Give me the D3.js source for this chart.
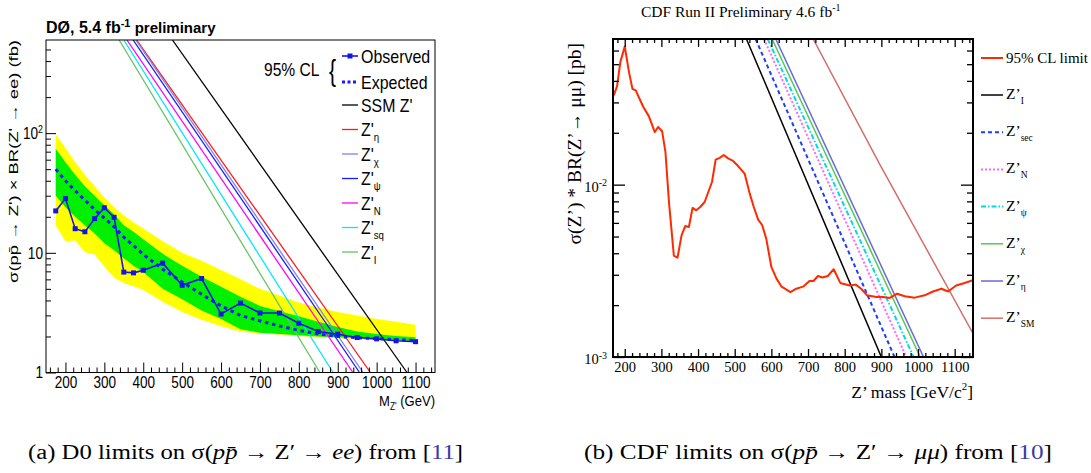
<!DOCTYPE html>
<html>
<head>
<meta charset="utf-8">
<script src="https://cdn.jsdelivr.net/npm/d3@7"></script>
<style>
  body { margin: 0; background: #fff; }
  svg { display: block; }
</style>
</head>
<body>
<svg id="chart" width="1091" height="473"></svg>
<script>
// ---------- (a) D0 data, cross section in fb ----------
var d0Mass     = [175, 200, 225, 250, 275, 300, 325, 350, 375, 400, 450, 500, 550, 600, 650, 700, 750, 800, 850, 900, 950, 1000, 1050, 1100];
var d0Observed = [22.4, 28.4, 15.9, 15.0, 19.3, 23.8, 19.8, 6.9, 6.8, 7.15, 8.2, 5.35, 6.1, 3.08, 3.8, 3.14, 3.14, 2.58, 2.2, 2.09, 1.96, 1.91, 1.84, 1.81];
var d0Expected = [50, 40, 33, 27.5, 23, 19.5, 16.5, 13.5, 11.5, 9.7, 7.3, 5.7, 4.5, 3.6, 3.0, 2.7, 2.45, 2.25, 2.1, 2.0, 1.95, 1.92, 1.88, 1.85];
var d0Plus2    = [98, 75, 57, 45, 36, 29, 24, 20.5, 18, 16, 12.5, 10, 8.6, 7.2, 6.0, 5.0, 4.4, 3.85, 3.5, 3.2, 3.0, 2.8, 2.65, 2.5];
var d0Plus1    = [74, 57, 45, 36, 30, 25, 21, 17, 15, 13, 9.8, 7.8, 6.3, 5.2, 4.3, 3.6, 3.25, 2.95, 2.65, 2.4, 2.2, 2.1, 2.02, 1.97];
var d0Minus1   = [30, 24, 20, 17, 14.5, 12, 10.5, 9, 7.8, 6.9, 5.0, 4.1, 3.3, 2.8, 2.3, 2.15, 2.1, 2.05, 2.0, 1.97, 1.94, 1.91, 1.87, 1.84];
var d0Minus2   = [16.9, 12.5, 12.7, 10.1, 9.7, 7.7, 6.2, 5.6, 5.25, 4.9, 3.9, 3.2, 2.76, 2.43, 2.2, 2.12, 2.08, 2.02, 1.97, 1.93, 1.9, 1.88, 1.85, 1.82];

// model curves: mass (GeV) where each crosses the two cross-section levels
var d0ModelName  = ["SSM Z'", "Z'", "Z'", "Z'", "Z'", "Z'", "Z'"];
var d0ModelSub   = ["", "η", "χ", "ψ", "N", "sq", "I"];
var d0ModelSigma = [600, 1];
var d0ModelMass  = [[475, 1078], [383, 984], [381, 965], [374, 956], [358, 939], [350, 888], [338, 854]];
var d0ModelColor = ["#000000", "#ff1a1a", "#8080f0", "#1a1aff", "#ff00ff", "#00e8ff", "#66c466"];

var d0XTicks = [200, 300, 400, 500, 600, 700, 800, 900, 1000, 1100];
var d0YTicks = [1, 10, 100];

// ---------- (b) CDF data, cross section in pb ----------
var cdfMass  = [170, 179, 188, 200, 212, 221, 230, 250, 266, 282, 291, 302, 311, 321, 334, 344, 355, 365, 375, 385,
                395, 406, 418, 438, 448, 459, 470, 482, 494, 506, 527, 541, 552, 564, 575, 586, 600, 614, 627, 652,
                668, 688, 704, 715, 727, 739, 754, 770, 788, 814, 830, 845, 861, 886, 905, 923, 943, 964, 991, 1018,
                1041, 1064, 1082, 1104, 1127, 1150];
var cdfLimit = [0.033, 0.0372, 0.0514, 0.0634, 0.0445, 0.036, 0.0352, 0.0284, 0.0249, 0.0202, 0.0216, 0.0204, 0.0155, 0.00776, 0.00387, 0.00377, 0.00508, 0.00575, 0.00568, 0.00733,
                0.0071, 0.00742, 0.00793, 0.01036, 0.01396, 0.0143, 0.01487, 0.0142, 0.0138, 0.01305, 0.0116, 0.00887, 0.00742, 0.00627, 0.00581, 0.00486, 0.00333, 0.00285, 0.00257, 0.00238,
                0.00249, 0.00257, 0.00276, 0.00276, 0.00295, 0.00289, 0.00295, 0.00323, 0.00269, 0.0026, 0.00263, 0.00249, 0.00228, 0.00223, 0.00223, 0.0022, 0.00233, 0.00225, 0.00221, 0.00228,
                0.0024, 0.00249, 0.0024, 0.0026, 0.00269, 0.00279];

var cdfModelSub   = ["I", "sec", "N", "ψ", "χ", "η", "SM"];
var cdfModelMass  = [[532, 900], [557, 936], [580, 968], [590, 988], [602, 1006], [612, 1015], [714, 895, 1150]];
var cdfModelSigma = [[0.07, 0.001], [0.07, 0.001], [0.07, 0.001], [0.07, 0.001], [0.07, 0.001], [0.07, 0.001], [0.07, 0.0132, 0.00137]];
var cdfModelColor = ["#000000", "#1f3cff", "#ff66ff", "#00dcdc", "#55c855", "#6a6ad8", "#d46e6a"];
var cdfModelDash  = [null, "4,3", "2,2", "5,2,1.5,2", null, null, null];

var cdfXTicks = [200, 300, 400, 500, 600, 700, 800, 900, 1000, 1100];
var cdfYTicks = [0.001, 0.01];


var svg = d3.select("#chart");
var SANS = "'Liberation Sans', Arial, sans-serif";
var SERIF = "'Liberation Serif', 'Times New Roman', serif";

// shrink text horizontally (the D0 plot lettering is narrow)
function squeeze(sel, k) {
    sel.each(function () {
        var w = this.getComputedTextLength();
        d3.select(this).attr("textLength", w * k).attr("lengthAdjust", "spacingAndGlyphs");
    });
}

// add a superscript exponent to log tick labels
function powerLabel(text, base, exp, size) {
    text.text(base);
    text.append("tspan").attr("dy", "-0.55em").style("font-size", size).text(exp);
}

// ===================== (a) D0 =====================
plot_d0();
function plot_d0() {
    var box = {left: 46, right: 435, top: 40, bottom: 372.5};
    var x = d3.scaleLinear().domain([150, 1150]).range([box.left, box.right]);
    var y = d3.scaleLog().domain([1, 600]).range([box.bottom, box.top]);

    var g = svg.append("g");
    g.append("clipPath").attr("id", "clipA")
        .append("rect").attr("x", box.left).attr("y", box.top)
        .attr("width", box.right - box.left).attr("height", box.bottom - box.top);
    var plot = g.append("g").attr("clip-path", "url(#clipA)");

    // 2 sigma and 1 sigma bands
    var band = function (lo, hi) {
        return d3.area()
            .x(function (d) { return x(d); })
            .y0(function (d, i) { return y(lo[i]); })
            .y1(function (d, i) { return y(hi[i]); });
    };
    plot.append("path").datum(d0Mass).attr("d", band(d0Minus2, d0Plus2)).attr("fill", "#ffff00");
    plot.append("path").datum(d0Mass).attr("d", band(d0Minus1, d0Plus1)).attr("fill", "#00f000");

    // model curves
    var modelLine = d3.line()
        .x(function (d) { return x(d[0]); })
        .y(function (d) { return y(d[1]); });
    d0ModelMass.forEach(function (m, k) {
        plot.append("path")
            .datum(m.map(function (v, i) { return [v, d0ModelSigma[i]]; }))
            .attr("d", modelLine)
            .attr("fill", "none")
            .attr("stroke", d0ModelColor[k])
            .attr("stroke-width", 1.3);
    });

    var lineOf = function (vals) {
        return d3.line()
            .x(function (d) { return x(d); })
            .y(function (d, i) { return y(vals[i]); });
    };
    // expected
    plot.append("path").datum(d0Mass).attr("d", lineOf(d0Expected))
        .attr("fill", "none").attr("stroke", "#1a1aff")
        .attr("stroke-width", 3).attr("stroke-dasharray", "3.5,3.8");
    // observed
    plot.append("path").datum(d0Mass).attr("d", lineOf(d0Observed))
        .attr("fill", "none").attr("stroke", "#1414e6").attr("stroke-width", 1.6);
    plot.selectAll("rect.obs").data(d0Mass).enter().append("rect")
        .attr("class", "obs")
        .attr("x", function (d) { return x(d) - 2.5; })
        .attr("y", function (d, i) { return y(d0Observed[i]) - 2.5; })
        .attr("width", 5).attr("height", 5)
        .attr("fill", "#1414e6");

    // frame
    g.append("rect").attr("x", box.left).attr("y", box.top)
        .attr("width", box.right - box.left).attr("height", box.bottom - box.top)
        .attr("fill", "none").attr("stroke", "#000").attr("stroke-width", 1);

    // x axis
    var minorX = d3.range(160, 1141, 20).filter(function (v) { return v % 100 !== 0; });
    g.append("g").attr("transform", "translate(0," + box.bottom + ")")
        .call(d3.axisBottom(x).tickValues(minorX).tickSize(-5).tickFormat(""))
        .call(function (a) { a.select(".domain").remove(); });
    var xa = g.append("g").attr("transform", "translate(0," + box.bottom + ")")
        .call(d3.axisBottom(x).tickValues(d0XTicks).tickSize(-10).tickPadding(4).tickFormat(d3.format("d")));
    xa.select(".domain").remove();
    xa.selectAll("text").style("font-family", SANS).style("font-size", "16.5px").attr("fill", "#000");
    squeeze(xa.selectAll("text"), 0.82);

    // y axis
    var minorY = [2, 3, 4, 5, 6, 7, 8, 9, 20, 30, 40, 50, 60, 70, 80, 90, 200, 300, 400, 500];
    g.append("g").attr("transform", "translate(" + box.left + ",0)")
        .call(d3.axisLeft(y).tickValues(minorY).tickSize(-5).tickFormat(""))
        .call(function (a) { a.select(".domain").remove(); });
    var ya = g.append("g").attr("transform", "translate(" + box.left + ",0)")
        .call(d3.axisLeft(y).tickValues(d0YTicks).tickSize(-10).tickPadding(3).tickFormat(String));
    ya.select(".domain").remove();
    ya.selectAll("text").style("font-family", SANS).style("font-size", "17px").attr("fill", "#000")
        .each(function (d) { if (d === 100) powerLabel(d3.select(this), "10", "2", "11px"); });
    squeeze(ya.selectAll("text"), 0.8);

    // axis titles
    var xt = g.append("text").attr("x", box.right).attr("y", 406)
        .attr("text-anchor", "end").style("font-family", SANS).style("font-size", "15.5px");
    xt.append("tspan").text("M");
    xt.append("tspan").attr("dy", 4).style("font-size", "10px").text("Z'");
    xt.append("tspan").attr("dy", -4).text(" (GeV)");
    squeeze(xt, 0.84);

    var yt = g.append("text")
        .attr("transform", "translate(18," + box.top + ") rotate(-90) scale(1,0.8)")
        .attr("text-anchor", "end").style("font-family", SANS).style("font-size", "15.5px");
    yt.append("tspan").text("σ(p");
    yt.append("tspan").text("p̄");
    yt.append("tspan").text(" → Z') × BR(Z' → ee) (fb)");
    yt.attr("textLength", 243).attr("lengthAdjust", "spacingAndGlyphs");

    // title
    var tt = g.append("text").attr("x", 46).attr("y", 33)
        .style("font-family", SANS).style("font-weight", "bold").style("font-size", "16px");
    tt.append("tspan").text("DØ, 5.4 fb");
    tt.append("tspan").attr("dy", -6).style("font-size", "11px").text("-1");
    tt.append("tspan").attr("dy", 6).style("font-size", "15px").text(" preliminary");

    // legend
    var lg = g.append("g");
    var t95 = lg.append("text").attr("x", 264).attr("y", 76)
        .style("font-family", SANS).style("font-size", "19px").text("95% CL");
    squeeze(t95, 0.82);
    lg.append("text").attr("x", 329).attr("y", 81)
        .style("font-family", SANS).style("font-size", "30px").text("{")
        .call(function (t) { squeeze(t, 0.7); });

    var lx0 = 342, lx1 = 358, tx = 361;
    lg.append("line").attr("x1", lx0).attr("x2", lx1).attr("y1", 56).attr("y2", 56)
        .attr("stroke", "#1414e6").attr("stroke-width", 1.6);
    lg.append("rect").attr("x", 347.5).attr("y", 53.5).attr("width", 5).attr("height", 5).attr("fill", "#1414e6");
    lg.append("line").attr("x1", lx0).attr("x2", lx1).attr("y1", 82).attr("y2", 82)
        .attr("stroke", "#1a1aff").attr("stroke-width", 3).attr("stroke-dasharray", "3,2.5");
    squeeze(lg.append("text").attr("x", tx).attr("y", 63).style("font-family", SANS).style("font-size", "19px").text("Observed"), 0.84);
    squeeze(lg.append("text").attr("x", tx).attr("y", 89).style("font-family", SANS).style("font-size", "19px").text("Expected"), 0.84);

    d0ModelName.forEach(function (name, k) {
        var yy = 105 + k * 24.5;
        lg.append("line").attr("x1", lx0).attr("x2", lx1).attr("y1", yy).attr("y2", yy)
            .attr("stroke", d0ModelColor[k]).attr("stroke-width", 1.3);
        var t = lg.append("text").attr("x", tx).attr("y", yy + 6.5)
            .style("font-family", SANS).style("font-size", "18px");
        t.append("tspan").text(name);
        if (d0ModelSub[k]) t.append("tspan").attr("dy", 5).style("font-size", "11px").text(d0ModelSub[k]);
        squeeze(t, 0.88);
    });
}

// ===================== (b) CDF =====================
plot_cdf();
function plot_cdf() {
    var box = {left: 613, right: 973, top: 39, bottom: 357};
    var x = d3.scaleLinear().domain([168, 1150]).range([box.left, box.right]);
    var y = d3.scaleLog().domain([0.001, 0.07]).range([box.bottom, box.top]);

    var g = svg.append("g");
    g.append("clipPath").attr("id", "clipB")
        .append("rect").attr("x", box.left).attr("y", box.top)
        .attr("width", box.right - box.left).attr("height", box.bottom - box.top);
    var plot = g.append("g").attr("clip-path", "url(#clipB)");

    var line = d3.line()
        .x(function (d) { return x(d[0]); })
        .y(function (d) { return y(d[1]); });

    cdfModelMass.forEach(function (m, k) {
        var p = plot.append("path")
            .datum(m.map(function (v, i) { return [v, cdfModelSigma[k][i]]; }))
            .attr("d", line)
            .attr("fill", "none")
            .attr("stroke", cdfModelColor[k])
            .attr("stroke-width", cdfModelDash[k] ? 2 : 1.5);
        if (cdfModelDash[k]) p.attr("stroke-dasharray", cdfModelDash[k]);
    });

    plot.append("path")
        .datum(cdfMass.map(function (m, i) { return [m, cdfLimit[i]]; }))
        .attr("d", line)
        .attr("fill", "none").attr("stroke", "#ff2a00").attr("stroke-width", 2)
        .attr("stroke-linejoin", "round");

    // ticks on all four sides
    var minorX = d3.range(180, 1141, 20).filter(function (v) { return v % 100 !== 0; });
    var minorY = [0.002, 0.003, 0.004, 0.005, 0.006, 0.007, 0.008, 0.009, 0.02, 0.03, 0.04, 0.05, 0.06];
    var tick = function (axis, tr) {
        g.append("g").attr("transform", tr).call(axis)
            .call(function (a) { a.select(".domain").remove(); a.selectAll("line").attr("stroke-width", 1.3); });
    };
    tick(d3.axisBottom(x).tickValues(minorX).tickSize(-4).tickFormat(""), "translate(0," + box.bottom + ")");
    tick(d3.axisTop(x).tickValues(minorX).tickSize(-4).tickFormat(""), "translate(0," + box.top + ")");
    tick(d3.axisTop(x).tickValues(cdfXTicks).tickSize(-8).tickFormat(""), "translate(0," + box.top + ")");
    tick(d3.axisLeft(y).tickValues(minorY).tickSize(-6).tickFormat(""), "translate(" + box.left + ",0)");
    tick(d3.axisRight(y).tickValues(minorY).tickSize(-6).tickFormat(""), "translate(" + box.right + ",0)");
    tick(d3.axisRight(y).tickValues(cdfYTicks).tickSize(-12).tickFormat(""), "translate(" + box.right + ",0)");

    var xa = g.append("g").attr("transform", "translate(0," + box.bottom + ")")
        .call(d3.axisBottom(x).tickValues(cdfXTicks).tickSize(-8).tickPadding(5).tickFormat(d3.format("d")));
    xa.select(".domain").remove();
    xa.selectAll("line").attr("stroke-width", 1.3);
    xa.selectAll("text").style("font-family", SERIF).style("font-size", "14.5px").attr("fill", "#000");

    var ya = g.append("g").attr("transform", "translate(" + box.left + ",0)")
        .call(d3.axisLeft(y).tickValues(cdfYTicks).tickSize(-12).tickPadding(6).tickFormat(""));
    ya.select(".domain").remove();
    ya.selectAll("line").attr("stroke-width", 1.3);
    ya.selectAll("text").style("font-family", SERIF).style("font-size", "14.5px").attr("fill", "#000")
        .attr("dy", "0.45em")
        .each(function (d) { powerLabel(d3.select(this), "10", d === 0.01 ? "-2" : "-3", "10px"); });

    // frame
    g.append("rect").attr("x", box.left).attr("y", box.top)
        .attr("width", box.right - box.left).attr("height", box.bottom - box.top)
        .attr("fill", "none").attr("stroke", "#000").attr("stroke-width", 2);

    // titles
    var tt = g.append("text").attr("x", 641).attr("y", 17)
        .style("font-family", SERIF).style("font-size", "15.5px");
    tt.append("tspan").text("CDF Run II Preliminary 4.6 fb");
    tt.append("tspan").attr("dy", -6).style("font-size", "10px").text("-1");

    var xt = g.append("text").attr("x", box.right).attr("y", 398)
        .attr("text-anchor", "end").style("font-family", SERIF).style("font-size", "17.5px");
    xt.append("tspan").text("Z’ mass [GeV/c");
    xt.append("tspan").attr("dy", -8).style("font-size", "11px").text("2");
    xt.append("tspan").attr("dy", 8).text("]");

    g.append("text")
        .attr("transform", "translate(581," + (box.top + 4) + ") rotate(-90)")
        .attr("text-anchor", "end").style("font-family", SERIF).style("font-size", "19.5px")
        .text("σ(Z’) * BR(Z’→ μμ) [pb]");

    // legend
    var lx0 = 981, lx1 = 1003, tx = 1006;
    var lg = g.append("g");
    lg.append("line").attr("x1", lx0).attr("x2", lx1).attr("y1", 58).attr("y2", 58)
        .attr("stroke", "#ff2a00").attr("stroke-width", 2);
    lg.append("text").attr("x", tx).attr("y", 63).style("font-family", SERIF).style("font-size", "15px").text("95% CL limit");
    cdfModelSub.forEach(function (sub, k) {
        var yy = 95 + k * 37.2;
        var l = lg.append("line").attr("x1", lx0).attr("x2", lx1).attr("y1", yy).attr("y2", yy)
            .attr("stroke", cdfModelColor[k]).attr("stroke-width", cdfModelDash[k] ? 2 : 1.5);
        if (cdfModelDash[k]) l.attr("stroke-dasharray", cdfModelDash[k]);
        var t = lg.append("text").attr("x", tx).attr("y", yy + 4)
            .style("font-family", SERIF).style("font-size", "15.5px");
        t.append("tspan").text("Z’");
        t.append("tspan").attr("dy", 5).style("font-size", "9.5px").text(sub);
    });
}

// ===================== captions =====================
function caption(x0, width, label, sub, num) {
    var t = svg.append("text").attr("x", x0).attr("y", 459)
        .style("font-family", SERIF).style("font-size", "20px");
    t.append("tspan").text(label + " limits on σ(");
    t.append("tspan").style("font-style", "italic").text("pp̄");
    t.append("tspan").text(" → Z′ → ");
    t.append("tspan").style("font-style", "italic").text(sub);
    t.append("tspan").text(") from [");
    t.append("tspan").attr("fill", "#3a3aa8").text(num);
    t.append("tspan").text("]");
    t.attr("textLength", width).attr("lengthAdjust", "spacingAndGlyphs");
}
caption(28, 435, "(a) D0", "ee", "11");
caption(584, 468, "(b) CDF", "μμ", "10");
</script>
</body>
</html>
